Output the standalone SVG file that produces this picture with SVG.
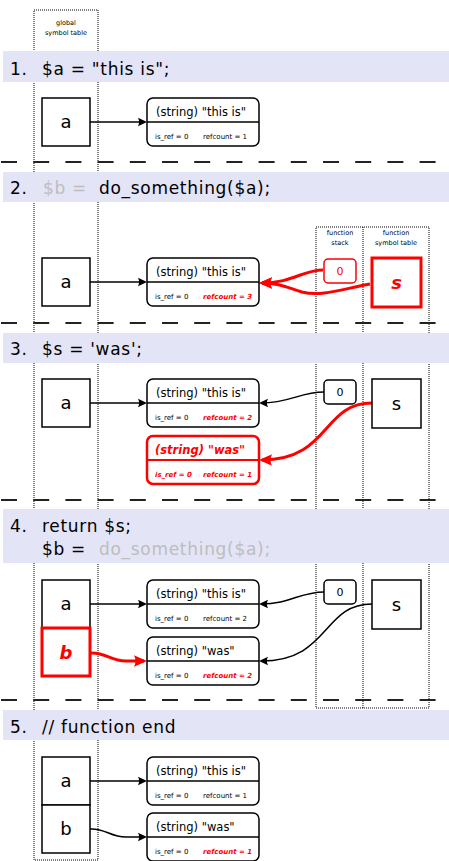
<svg xmlns="http://www.w3.org/2000/svg" width="449" height="861" viewBox="0 0 449 861">
<style>
text{font-family:"DejaVu Sans","Liberation Sans",sans-serif;fill:#000}
.band{fill:#e4e4f7}
.hdr{font-size:17px;letter-spacing:0.7px}
.gray{fill:#bdbdbd}
.var{fill:#fff;stroke:#000;stroke-width:1.5}
.varR{fill:#fff;stroke:#f00;stroke-width:3}
.vt{font-size:18px;text-anchor:middle}
.str{fill:#fff;stroke:#000;stroke-width:1.5}
.strR{fill:#fff;stroke:#f00;stroke-width:2.5}
.div{stroke:#000;stroke-width:1.5}
.divR{stroke:#f00;stroke-width:2}
.st{font-size:11.5px}
.sm{font-size:7px}
.red{fill:#f00;font-weight:bold;font-style:italic}
.zero{fill:#fff;stroke:#000;stroke-width:1.5}
.zeroR{fill:#fff;stroke:#f00;stroke-width:1.5}
.zt{font-size:11px;text-anchor:middle}
.dot{fill:none;stroke:#000;stroke-width:1;stroke-dasharray:1 1}
.dash{stroke:#222;stroke-width:2;stroke-dasharray:16 16.2}
.lbl{font-size:6.5px;text-anchor:middle}
.c{fill:none;stroke:#000;stroke-width:1.5;marker-end:url(#arr)}
.cR{fill:none;stroke:#f00;stroke-width:3;marker-end:url(#arrR)}
</style>
<defs>
<marker id="arr" markerUnits="userSpaceOnUse" viewBox="0 -6 12 12" markerWidth="12" markerHeight="12" refX="7" refY="0" orient="auto" overflow="visible">
<path d="M0,-4.2 L9,0 L0,4.2 Q2.2,0 0,-4.2 z" fill="#000"/>
</marker>
<marker id="arrR" markerUnits="userSpaceOnUse" viewBox="0 -7 15 14" markerWidth="15" markerHeight="14" refX="10" refY="0" orient="auto" overflow="visible">
<path d="M0,-5.8 L13,0 L0,5.8 Q3,0 0,-5.8 z" fill="#f00"/>
</marker>
</defs>
<rect width="449" height="861" fill="#fff"/>

<!-- background: columns and separators -->
<g id="columns">
<rect class="dot" x="34" y="10" width="64" height="850"/>
<text class="lbl" x="66" y="25">global</text>
<text class="lbl" x="66" y="35">symbol table</text>
<rect class="dot" x="316" y="227" width="113" height="481"/>
<line class="dot" x1="363" y1="227" x2="363" y2="708"/>
<text class="lbl" x="340" y="235">function</text>
<text class="lbl" x="340" y="245">stack</text>
<text class="lbl" x="396" y="235">function</text>
<text class="lbl" x="396" y="245">symbol table</text>
</g>
<g id="separators">
<line class="dash" x1="1" y1="162" x2="436" y2="162"/>
<line class="dash" x1="1" y1="323" x2="436" y2="323"/>
<line class="dash" x1="1" y1="500" x2="436" y2="500"/>
<line class="dash" x1="1" y1="700" x2="436" y2="700"/>
</g>

<!-- headers -->
<g id="header1">
<rect class="band" x="3" y="51" width="446" height="31"/>
<text class="hdr" x="10" y="74.5">1.</text>
<text class="hdr" x="42" y="74.5">$a = "this is";</text>
</g>
<g id="header2">
<rect class="band" x="3" y="172" width="446" height="30"/>
<text class="hdr" x="10" y="194">2.</text>
<text class="hdr gray" x="43" y="194">$b =</text>
<text class="hdr" x="99" y="194">do_something($a);</text>
</g>
<g id="header3">
<rect class="band" x="3" y="333" width="446" height="30"/>
<text class="hdr" x="10" y="355">3.</text>
<text class="hdr" x="42" y="355">$s = 'was';</text>
</g>
<g id="header4">
<rect class="band" x="3" y="509" width="446" height="54"/>
<text class="hdr" x="10" y="532">4.</text>
<text class="hdr" x="42" y="532">return $s;</text>
<text class="hdr" x="42" y="555">$b =</text>
<text class="hdr gray" x="99" y="555">do_something($a);</text>
</g>
<g id="header5">
<rect class="band" x="3" y="710" width="446" height="30"/>
<text class="hdr" x="10" y="733">5.</text>
<text class="hdr" x="42" y="733">// function end</text>
</g>

<!-- connectors -->
<g id="connectors">
<path class="c" d="M90,122 L145,122"/>
<path class="c" d="M90,282 L145,282"/>
<path class="cR" d="M323,270 C303,270 292,283 262,283"/>
<path class="cR" d="M370,284 C342,289 322,297 302,292 C288,288 280,283 262,283"/>
<path class="c" d="M90,403 L145,403"/>
<path class="c" d="M324,392 C300,392 290,403 261,403"/>
<path class="cR" d="M372,403 C322,403 330,460 262,460"/>
<path class="c" d="M90,604 L145,604"/>
<path class="c" d="M324,592 C300,592 290,604 261,604"/>
<path class="c" d="M372,604 C322,604 330,661 261,661"/>
<path class="cR" d="M90,653 C106,652 110,661 126,661 L144,661"/>
<path class="c" d="M90,781 L145,781"/>
<path class="c" d="M90,829 C105,828 110,837 126,837 L145,837"/>
</g>

<!-- section 1 -->
<g id="s1-a"><rect class="var" x="42" y="98" width="48" height="48"/><text class="vt" x="66" y="128">a</text></g>
<g id="s1-str"><rect class="str" x="147" y="98" width="112" height="48" rx="6"/><line class="div" x1="147" y1="122" x2="259" y2="122"/>
<text class="st" x="156" y="116">(string) "this is"</text><text class="sm" x="155" y="139">is_ref = 0</text><text class="sm" x="203" y="139">refcount = 1</text></g>

<!-- section 2 -->
<g id="s2-a"><rect class="var" x="42" y="258" width="48" height="48"/><text class="vt" x="66" y="288">a</text></g>
<g id="s2-str"><rect class="str" x="147" y="258" width="112" height="48" rx="6"/><line class="div" x1="147" y1="282" x2="259" y2="282"/>
<text class="st" x="156" y="276">(string) "this is"</text><text class="sm" x="155" y="299">is_ref = 0</text><text class="sm red" x="203" y="299">refcount = 3</text></g>
<g id="s2-zero"><rect class="zeroR" x="324" y="259" width="32" height="24" rx="4"/><text class="zt" x="340" y="275" fill="#f00" style="fill:#f00">0</text></g>
<g id="s2-s"><rect class="varR" x="372" y="258" width="49" height="49"/><text class="vt red" x="396.5" y="289">s</text></g>

<!-- section 3 -->
<g id="s3-a"><rect class="var" x="42" y="379" width="48" height="48"/><text class="vt" x="66" y="409">a</text></g>
<g id="s3-str"><rect class="str" x="147" y="379" width="112" height="48" rx="6"/><line class="div" x1="147" y1="403" x2="259" y2="403"/>
<text class="st" x="156" y="397">(string) "this is"</text><text class="sm" x="155" y="420">is_ref = 0</text><text class="sm red" x="203" y="420">refcount = 2</text></g>
<g id="s3-was"><rect class="strR" x="147" y="436" width="112" height="48" rx="6"/><line class="divR" x1="147" y1="460" x2="259" y2="460"/>
<text class="st red" x="155" y="454">(string) "was"</text><text class="sm red" x="155" y="477">is_ref = 0</text><text class="sm red" x="203" y="477">refcount = 1</text></g>
<g id="s3-zero"><rect class="zero" x="324" y="380" width="32" height="24" rx="4"/><text class="zt" x="340" y="396">0</text></g>
<g id="s3-s"><rect class="var" x="372" y="379" width="49" height="49"/><text class="vt" x="396.5" y="410">s</text></g>

<!-- section 4 -->
<g id="s4-a"><rect class="var" x="42" y="580" width="48" height="48"/><text class="vt" x="66" y="610">a</text></g>
<g id="s4-b"><rect class="varR" x="42" y="628" width="48" height="48"/><text class="vt red" x="66" y="659">b</text></g>
<g id="s4-str"><rect class="str" x="147" y="580" width="112" height="48" rx="6"/><line class="div" x1="147" y1="604" x2="259" y2="604"/>
<text class="st" x="156" y="598">(string) "this is"</text><text class="sm" x="155" y="621">is_ref = 0</text><text class="sm" x="203" y="621">refcount = 2</text></g>
<g id="s4-was"><rect class="str" x="147" y="637" width="112" height="48" rx="6"/><line class="div" x1="147" y1="661" x2="259" y2="661"/>
<text class="st" x="156" y="655">(string) "was"</text><text class="sm" x="155" y="678">is_ref = 0</text><text class="sm red" x="203" y="678">refcount = 2</text></g>
<g id="s4-zero"><rect class="zero" x="324" y="580" width="32" height="24" rx="4"/><text class="zt" x="340" y="596">0</text></g>
<g id="s4-s"><rect class="var" x="372" y="580" width="49" height="49"/><text class="vt" x="396.5" y="611">s</text></g>

<!-- section 5 -->
<g id="s5-a"><rect class="var" x="42" y="757" width="48" height="48"/><text class="vt" x="66" y="787">a</text></g>
<g id="s5-b"><rect class="var" x="42" y="805" width="48" height="48"/><text class="vt" x="66" y="835">b</text></g>
<g id="s5-str"><rect class="str" x="147" y="757" width="112" height="48" rx="6"/><line class="div" x1="147" y1="781" x2="259" y2="781"/>
<text class="st" x="156" y="775">(string) "this is"</text><text class="sm" x="155" y="798">is_ref = 0</text><text class="sm" x="203" y="798">refcount = 1</text></g>
<g id="s5-was"><rect class="str" x="147" y="813" width="112" height="48" rx="6"/><line class="div" x1="147" y1="837" x2="259" y2="837"/>
<text class="st" x="156" y="831">(string) "was"</text><text class="sm" x="155" y="854">is_ref = 0</text><text class="sm red" x="203" y="854">refcount = 1</text></g>
</svg>
